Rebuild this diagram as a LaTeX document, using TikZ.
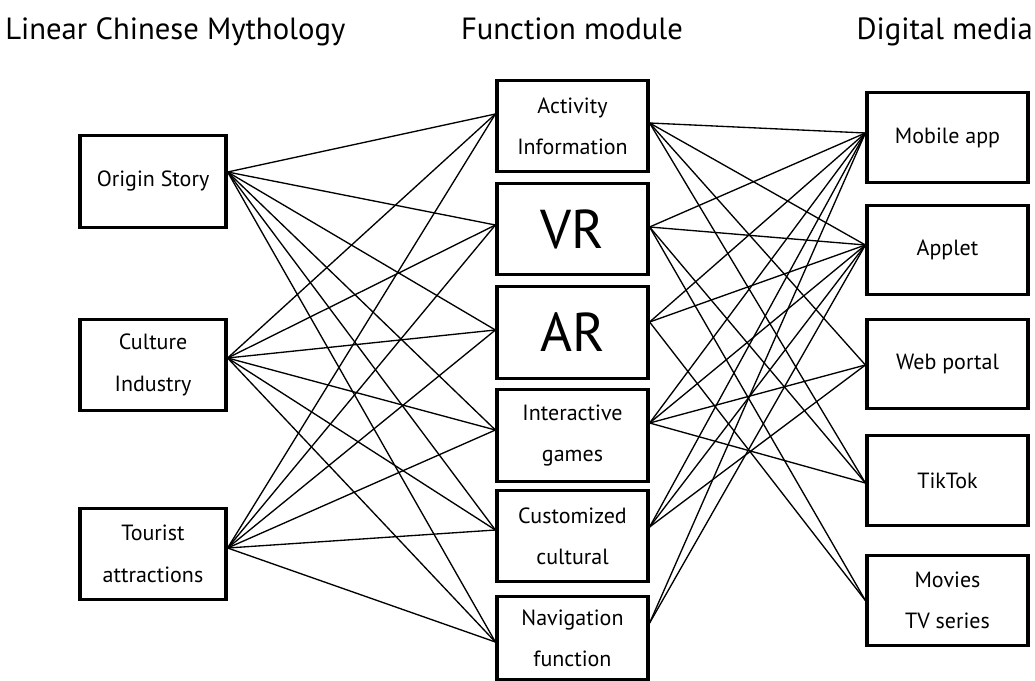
\documentclass[tikz,border=0pt]{standalone}
\usepackage{fontspec}
\setmainfont{PT Sans}
\usetikzlibrary{calc}
\begin{document}
\begin{tikzpicture}[x=0.75pt,y=-0.75pt,
 box/.style={draw, line width=2.4pt, align=center, inner sep=0pt, font=\fontsize{16.5}{31}\selectfont},
 lbox/.style={box, minimum width=109.5pt, minimum height=68.5pt},
 mbox/.style={box, minimum width=113.25pt, minimum height=68.5pt},
 rbox/.style={box, minimum width=120.75pt, minimum height=67pt},
 big/.style={font=\fontsize{41}{44}\selectfont},
 ln/.style={line width=1pt},
 ttl/.style={font=\fontsize{23}{26}\selectfont, inner sep=0pt}]
\useasboundingbox (0,0) rectangle (1035,681);
% titles
\node[ttl, anchor=base west] (t1) at (5,40) {Linear Chinese Mythology};
\node[ttl, anchor=base] (t2) at (572,40) {Function module};
\node[ttl, anchor=base east] (t3) at (1033,40) {Digital media};
% left column
\node[lbox] (o) at (153,181.5) {Origin Story};
\node[lbox] (c) at (153,365) {Culture\\Industry};
\node[lbox] (t) at (153,554) {Tourist\\attractions};
% middle column
\node[mbox] (a) at (572.5,126) {Activity\\Information};
\node[mbox, big] (v) at (572.5,229) {VR};
\node[mbox, big] (r) at (572.5,332.5) {AR};
\node[mbox] (i) at (572.5,435.5) {Interactive\\games};
\node[mbox] (u) at (572.5,536) {Customized\\cultural};
\node[mbox, minimum height=62pt] (n) at (572.5,638) {Navigation\\function};
% right column
\node[rbox] (m) at (947.5,137.5) {Mobile app};
\node[rbox] (p) at (947.5,250) {Applet};
\node[rbox] (w) at (947.5,364) {Web portal};
\node[rbox] (k) at (947.5,480.5) {TikTok};
\node[rbox] (s) at (947.5,600.5) {Movies\\TV series};
% attachment points
\coordinate (oR) at ($(o.east)+(0,-9.5)$);
\coordinate (cR) at ($(c.east)+(0,-7)$);
\coordinate (tR) at ($(t.east)+(0,-6)$);
\coordinate (aL) at ($(a.west)+(0,-12)$);
\coordinate (vL) at ($(v.west)+(0,-4)$);
\coordinate (rL) at ($(r.west)+(0,-2.5)$);
\coordinate (iL) at ($(i.west)+(0,-5.5)$);
\coordinate (uL) at ($(u.west)+(0,-6)$);
\coordinate (nL) at ($(n.west)+(0,4)$);
\coordinate (aR) at ($(a.east)+(0,-3)$);
\coordinate (vR) at ($(v.east)+(0,-2)$);
\coordinate (rR) at ($(r.east)+(0,-10.5)$);
\coordinate (iR) at ($(i.east)+(0,-12.5)$);
\coordinate (uR) at ($(u.east)+(0,-9)$);
\coordinate (nR) at ($(n.east)+(0,-15)$);
\coordinate (mL) at ($(m.west)+(0,-4.5)$);
\coordinate (pL) at ($(p.west)+(0,-5)$);
\coordinate (wL) at ($(w.west)+(0,1)$);
\coordinate (kL) at ($(k.west)+(0,2.5)$);
\coordinate (sL) at ($(s.west)+(0,0)$);
% left connections
\foreach \l in {o,c,t}{
  \foreach \q in {a,v,r,i,u,n}{
    \draw[ln] (\l R) -- (\q L);
  }
}
% right connections
\foreach \q/\d in {a/m,a/p,a/w,a/k,
                   v/m,v/p,v/k,v/s,
                   r/m,r/p,r/s,
                   i/m,i/p,i/w,i/k,
                   u/m,u/p,u/w,
                   n/m,n/p}{
  \draw[ln] (\q R) -- (\d L);
}
\end{tikzpicture}
\end{document}
